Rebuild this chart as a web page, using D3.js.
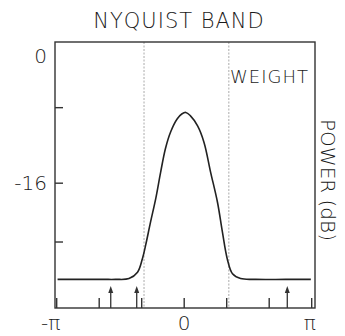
<!DOCTYPE html>
<html>
<head>
<meta charset="utf-8">
<script src="https://cdn.jsdelivr.net/npm/d3@7"></script>
<style>
  body { margin: 0; background: #fff; }
  text { font-family: "DejaVu Sans", sans-serif; font-weight: 200; fill: #1a1a1a; }
</style>
</head>
<body>
<div id="chart"></div>
<script>
// spectrum (frequency in rad, power in dB)
var omega   = [-3.12, -2.0, -1.69, -1.36, -1.15, -1.03, -0.95, -0.83, -0.70, -0.58, -0.46, -0.33, -0.17, -0.06, 0.04,
               0.15, 0.33, 0.49, 0.65, 0.82, 0.94, 1.06, 1.19, 1.39, 1.76, 2.5, 3.12];
var powerDb = [-28.1, -28.1, -28.1, -28.0, -27.2, -25.5, -23.8, -20.9, -17.9, -14.6, -11.6, -9.5, -7.9, -7.3, -7.1,
               -7.5, -8.8, -10.9, -14.6, -18.4, -22.1, -25.5, -27.4, -28.0, -28.1, -28.1, -28.1];

// band edges (dotted), arrows and ticks
var bandEdges = [-0.99, 1.10];
var arrows = [-1.81, -1.17, 2.54];
var xTicks = [-3, -2, -1, 0, 1, 2, 3].map(function(k) { return k * Math.PI / 3; });
var xLabels = [{v: -Math.PI, t: "-\u03c0"}, {v: 0, t: "0"}, {v: Math.PI, t: "\u03c0"}];
var yTicks = [-6.5, -16, -23.4];
var yLabels = [{v: 0, t: "0"}, {v: -16, t: "-16"}];

var margin = {top: 42, left: 55},
    width = 260,
    height = 266;

var svg = d3.select("#chart")
  .append("svg")
    .attr("width", 345)
    .attr("height", 336);

var g = svg.append("g")
    .attr("transform", "translate(" + margin.left + "," + margin.top + ")");

var x = d3.scaleLinear().domain([-Math.PI, Math.PI]).range([1.7, 256.7]);
var y = d3.scaleLinear().domain([1.76, -31.7]).range([0, height]);

// title
svg.append("text")
    .attr("x", 179).attr("y", 28)
    .attr("text-anchor", "middle")
    .attr("font-size", "21px")
    .attr("letter-spacing", "1px")
    .text("NYQUIST BAND");

// band edges
g.selectAll(".edge")
  .data(bandEdges)
  .enter()
  .append("line")
    .attr("x1", function(d) { return x(d); })
    .attr("x2", function(d) { return x(d); })
    .attr("y1", 0).attr("y2", height)
    .attr("stroke", "#aaa")
    .attr("stroke-dasharray", "2,1.5")
    .attr("stroke-width", 1);

// frame
g.append("rect")
    .attr("width", width).attr("height", height)
    .attr("fill", "none")
    .attr("stroke", "#333")
    .attr("stroke-width", 1.4);

// y ticks inside the frame
g.selectAll(".ytick")
  .data(yTicks)
  .enter()
  .append("line")
    .attr("x1", 0).attr("x2", 8)
    .attr("y1", function(d) { return y(d); })
    .attr("y2", function(d) { return y(d); })
    .attr("stroke", "#333")
    .attr("stroke-width", 1.4);

g.selectAll(".ylab")
  .data(yLabels)
  .enter()
  .append("text")
    .attr("x", -8)
    .attr("y", function(d) { return y(d.v); })
    .attr("dy", "0.36em")
    .attr("text-anchor", "end")
    .attr("font-size", "20px")
    .text(function(d) { return d.t; });

// x ticks inside the frame
g.selectAll(".xtick")
  .data(xTicks)
  .enter()
  .append("line")
    .attr("x1", function(d) { return x(d); })
    .attr("x2", function(d) { return x(d); })
    .attr("y1", height).attr("y2", height - 10)
    .attr("stroke", "#333")
    .attr("stroke-width", 1.4);

g.selectAll(".xlab")
  .data(xLabels)
  .enter()
  .append("text")
    .attr("x", function(d) { return d.v < 0 ? x(d.v) - 6 : (d.v > 0 ? x(d.v) - 2 : x(d.v)); })
    .attr("y", height + 22)
    .attr("text-anchor", "middle")
    .attr("font-size", "20px")
    .text(function(d) { return d.t; });

// arrows
var arrow = g.selectAll(".arrow")
  .data(arrows)
  .enter()
  .append("g")
    .attr("transform", function(d) { return "translate(" + x(d) + "," + height + ")"; });

arrow.append("line")
    .attr("y1", 0).attr("y2", -18)
    .attr("stroke", "#333")
    .attr("stroke-width", 1.3);

arrow.append("path")
    .attr("d", "M-2.5,-15 L0,-22 L2.5,-15 Z")
    .attr("fill", "#333");

// spectrum
var line = d3.line()
    .x(function(d, i) { return x(omega[i]); })
    .y(function(d) { return y(d); })
    .curve(d3.curveCatmullRom);

g.append("path")
    .datum(powerDb)
    .attr("d", line)
    .attr("fill", "none")
    .attr("stroke", "#222")
    .attr("stroke-width", 1.6);

// label in plot
g.append("text")
    .attr("x", 175).attr("y", 41)
    .attr("font-size", "18px")
    .attr("letter-spacing", "1px")
    .text("WEIGHT");

// right-hand axis title
svg.append("text")
    .attr("transform", "translate(321,180) rotate(90)")
    .attr("text-anchor", "middle")
    .attr("font-size", "20px")
    .text("POWER (dB)");
</script>
</body>
</html>
